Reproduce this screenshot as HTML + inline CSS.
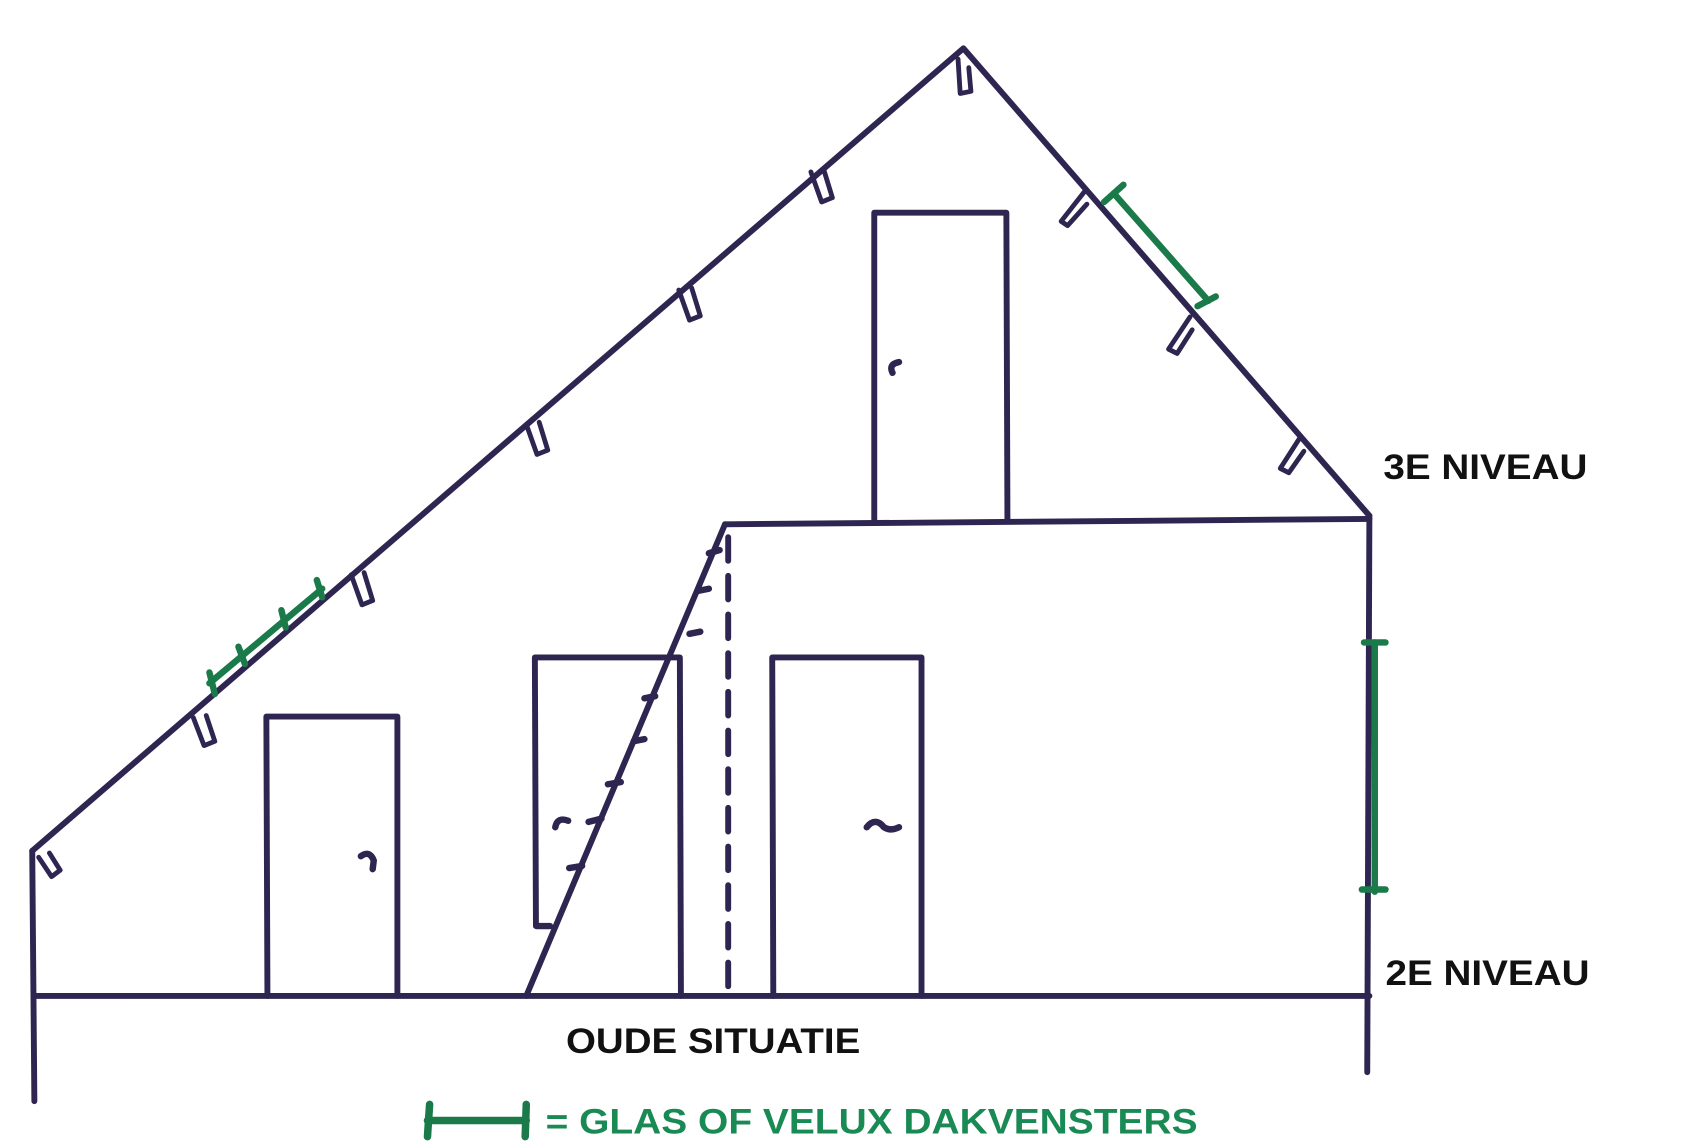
<!DOCTYPE html>
<html><head><meta charset="utf-8"><style>
html,body{margin:0;padding:0;background:#fff;}
svg{display:block;}
text{font-family:"Liberation Sans",Arial,sans-serif;font-weight:bold;}
</style></head><body>
<svg width="1683" height="1142" viewBox="0 0 1567 1063" preserveAspectRatio="none" xmlns="http://www.w3.org/2000/svg">
<rect width="1567" height="1063" fill="#fff"/>
<g stroke="#2e2650" stroke-width="5.5" fill="none" stroke-linecap="round" stroke-linejoin="round">
  <polyline points="30,792 897,45 1275,480"/>
  <line x1="30" y1="792" x2="32" y2="1025"/>
  <line x1="1275" y1="480" x2="1273" y2="998"/>
  <line x1="32" y1="927" x2="1275" y2="927"/>
  <line x1="675" y1="488" x2="1275" y2="483"/>
  <polyline points="814,485 814,198 937,198 938,485"/>
  <polyline points="249,927 248,667 370,667 370,927"/>
  <polyline points="499,862 498,612 633,612 634,927"/>
  <polyline points="720,927 719,612 858,612 858,927"/>
  <line x1="490" y1="927" x2="675" y2="488"/>
  <line x1="678" y1="500" x2="678" y2="925" stroke-dasharray="22,14"/>
  <path d="M336,797 q8,-6 12,4 l-1,8" stroke-width="6"/>
  <path d="M831,347 q-4,-8 6,-10" stroke-width="6"/>
  <path d="M517,770 q2,-10 12,-6" stroke-width="6"/>
  <path d="M807,770 q8,-10 16,0 q6,4 14,0" stroke-width="6"/>
  <g stroke-width="6">
    <line x1="500" y1="862" x2="512" y2="862"/>
    <line x1="530" y1="808" x2="542" y2="806"/>
    <line x1="548" y1="765" x2="560" y2="762"/>
    <line x1="566" y1="730" x2="578" y2="728"/>
    <line x1="590" y1="690" x2="600" y2="688"/>
    <line x1="600" y1="650" x2="610" y2="648"/>
    <line x1="642" y1="590" x2="652" y2="588"/>
    <line x1="650" y1="550" x2="660" y2="548"/>
    <line x1="660" y1="515" x2="670" y2="512"/>
  </g>
  <g stroke-width="4.5">
    <path d="M36,798 l12,18 l8,-6 l-10,-16"/>
    <path d="M180,668 l10,26 l10,-4 l-8,-24"/>
    <path d="M327,535 l10,28 l10,-4 l-8,-26"/>
    <path d="M490,395 l10,28 l10,-4 l-8,-26"/>
    <path d="M632,270 l10,28 l10,-4 l-8,-26"/>
    <path d="M755,160 l10,28 l10,-4 l-8,-26"/>
    <path d="M892,55 l2,32 l10,-2 l-2,-22"/>
    <path d="M1010,178 l-22,28 l6,4 l18,-20"/>
    <path d="M1108,295 l-20,30 l8,4 l14,-22"/>
    <path d="M1210,408 l-18,28 l8,4 l14,-20"/>
  </g>
</g>
<g stroke="#1a7a4a" stroke-width="6" fill="none" stroke-linecap="round">
  <line x1="1037" y1="180" x2="1125" y2="280"/>
  <line x1="1028" y1="188" x2="1046" y2="172"/>
  <line x1="1115" y1="285" x2="1132" y2="276"/>
  <line x1="1280" y1="598" x2="1280" y2="830"/>
  <line x1="1270" y1="598" x2="1290" y2="598"/>
  <line x1="1268" y1="828" x2="1290" y2="828"/>
  <line x1="195" y1="636" x2="300" y2="548"/>
  <line x1="195" y1="626" x2="200" y2="646"/>
  <line x1="222" y1="602" x2="228" y2="618"/>
  <line x1="262" y1="568" x2="266" y2="584"/>
  <line x1="295" y1="540" x2="300" y2="556"/>
  <line x1="398" y1="1043" x2="490" y2="1043" stroke-width="7"/>
  <line x1="400" y1="1028" x2="398" y2="1058" stroke-width="7"/>
  <line x1="490" y1="1028" x2="489" y2="1058" stroke-width="7"/>
</g>
<text x="1288" y="446" font-size="33" fill="#111" textLength="190" lengthAdjust="spacingAndGlyphs">3E NIVEAU</text>
<text x="1290" y="917" font-size="33" fill="#111" textLength="190" lengthAdjust="spacingAndGlyphs">2E NIVEAU</text>
<text x="527" y="980" font-size="33" fill="#111" textLength="274" lengthAdjust="spacingAndGlyphs">OUDE SITUATIE</text>
<text x="508" y="1055" font-size="33" fill="#1a8a55" textLength="607" lengthAdjust="spacingAndGlyphs">= GLAS OF VELUX DAKVENSTERS</text>
</svg>
</body></html>
